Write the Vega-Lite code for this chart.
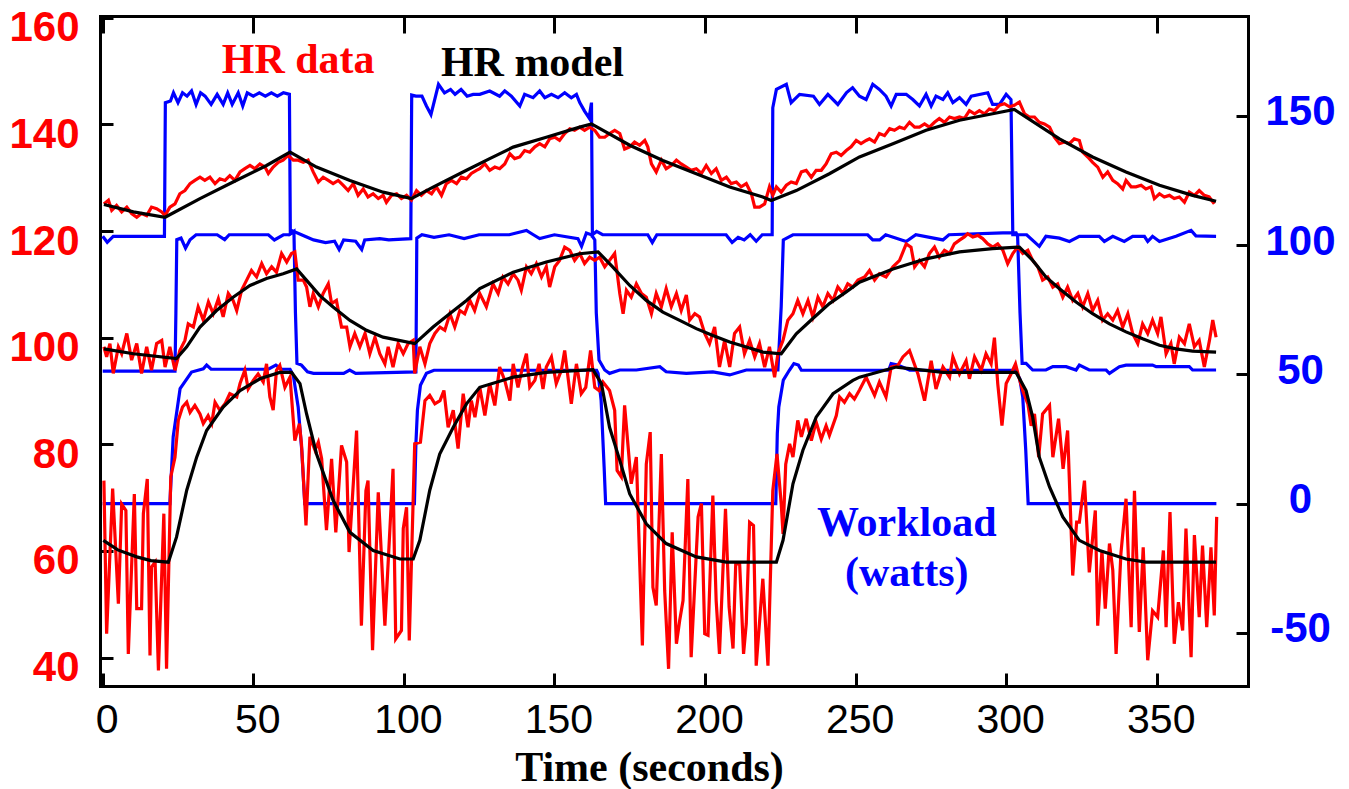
{
"$schema": "https://vega.github.io/schema/vega-lite/v6.json",
"width": 1148, "height": 670,
"autosize": {"type": "none"},
"padding": {"left": 100, "top": 16, "right": 101, "bottom": 103},
"background": "white",
"config": {
 "view": {"stroke": null},
 "axis": {"grid": false, "domainColor": "black", "domainWidth": 3, "domainCap": "square", "tickColor": "black", "tickWidth": 3, "labelFont": "Liberation Sans", "labelOverlap": false, "labelBound": false}
},
"datasets": {
"work": [
{"g":"a","t":0,"w":0},{"g":"a","t":22.3,"w":0},{"g":"a","t":23.4,"w":25.8},{"g":"a","t":25.7,"w":44.5},{"g":"a","t":29.5,"w":50.9},{"g":"a","t":33.4,"w":52.2},{"g":"a","t":34.5,"w":53.6},{"g":"a","t":36,"w":52},{"g":"a","t":55,"w":52},{"g":"a","t":57.5,"w":53.6},{"g":"a","t":59.5,"w":52},{"g":"a","t":62.2,"w":52},{"g":"a","t":63.3,"w":49.6},{"g":"a","t":64.9,"w":37.4},{"g":"a","t":66.1,"w":20.6},{"g":"a","t":67.1,"w":0},{"g":"a","t":103.5,"w":0},{"g":"a","t":104,"w":23.2},{"g":"a","t":104.5,"w":36.1},{"g":"a","t":105.5,"w":45.8},{"g":"a","t":107.5,"w":50.4},{"g":"a","t":110,"w":51.6},{"g":"a","t":164,"w":51.6},{"g":"a","t":164.5,"w":50.4},{"g":"a","t":165.5,"w":40},{"g":"a","t":166.5,"w":14.2},{"g":"a","t":167,"w":0},{"g":"a","t":223.5,"w":0},{"g":"a","t":224,"w":27.1},{"g":"a","t":224.5,"w":37.4},{"g":"a","t":226,"w":47.8},{"g":"a","t":228,"w":51.6},{"g":"a","t":229.5,"w":54.2},{"g":"a","t":231,"w":53.6},{"g":"a","t":232,"w":51.6},{"g":"a","t":261,"w":51.6},{"g":"a","t":261.8,"w":54.2},{"g":"a","t":264,"w":53.6},{"g":"a","t":268,"w":51.6},{"g":"a","t":303,"w":51.6},{"g":"a","t":304.5,"w":48.4},{"g":"a","t":305.5,"w":41.3},{"g":"a","t":306.5,"w":20.7},{"g":"a","t":307.3,"w":0},{"g":"a","t":369.8,"w":0},
{"g":"b","t":0,"w":51.3},{"g":"b","t":24,"w":51.3},{"g":"b","t":24.3,"w":73.7},{"g":"b","t":24.6,"w":102.1},{"g":"b","t":26,"w":102.7},{"g":"b","t":27.5,"w":98.8},{"g":"b","t":29,"w":102.1},{"g":"b","t":31,"w":104},{"g":"b","t":38,"w":104},{"g":"b","t":40.5,"w":102.1},{"g":"b","t":42,"w":104},{"g":"b","t":55,"w":104},{"g":"b","t":57,"w":102},{"g":"b","t":60,"w":104},{"g":"b","t":62,"w":104},{"g":"b","t":63.5,"w":105.3},{"g":"b","t":64,"w":73.7},{"g":"b","t":64.5,"w":54.3},{"g":"b","t":66,"w":53.6},{"g":"b","t":68,"w":51},{"g":"b","t":70,"w":50.4},{"g":"b","t":80,"w":50.4},{"g":"b","t":82,"w":51.7},{"g":"b","t":84,"w":50.4},{"g":"b","t":104,"w":51},{"g":"b","t":104.3,"w":102.7},{"g":"b","t":106,"w":104},{"g":"b","t":110,"w":103},{"g":"b","t":115,"w":104},{"g":"b","t":120,"w":102.5},{"g":"b","t":125,"w":104},{"g":"b","t":135,"w":104},{"g":"b","t":140.7,"w":105.7},{"g":"b","t":143,"w":104},{"g":"b","t":145.1,"w":102.5},{"g":"b","t":150,"w":104},{"g":"b","t":157.8,"w":102.5},{"g":"b","t":159,"w":99.5},{"g":"b","t":160.6,"w":104.7},{"g":"b","t":162.3,"w":104},{"g":"b","t":163.4,"w":102},{"g":"b","t":163.9,"w":73.7},{"g":"b","t":164.8,"w":55.6},{"g":"b","t":166.7,"w":51.7},{"g":"b","t":168.3,"w":50.4},{"g":"b","t":171.7,"w":51.7},{"g":"b","t":177.2,"w":51.7},{"g":"b","t":185,"w":53},{"g":"b","t":187.1,"w":51},{"g":"b","t":193.8,"w":50.4},{"g":"b","t":202.6,"w":51},{"g":"b","t":208.2,"w":49.8},{"g":"b","t":213.7,"w":51.7},{"g":"b","t":224.2,"w":51.7},{"g":"b","t":225.3,"w":76.2},{"g":"b","t":226,"w":102},{"g":"b","t":229.2,"w":104},{"g":"b","t":254,"w":104},{"g":"b","t":255.7,"w":102},{"g":"b","t":258,"w":102},{"g":"b","t":260,"w":104},{"g":"b","t":266.8,"w":101.4},{"g":"b","t":270,"w":104},{"g":"b","t":279,"w":102},{"g":"b","t":281,"w":104},{"g":"b","t":298.9,"w":104.7},{"g":"b","t":303.3,"w":104.7},{"g":"b","t":303.8,"w":103.4},{"g":"b","t":304.6,"w":73.7},{"g":"b","t":305.3,"w":54.3},{"g":"b","t":306.6,"w":54.3},{"g":"b","t":308.8,"w":51.7},{"g":"b","t":313.2,"w":51.7},{"g":"b","t":315.5,"w":53},{"g":"b","t":319.9,"w":53},{"g":"b","t":323.2,"w":51.7},{"g":"b","t":324.3,"w":53.6},{"g":"b","t":327.6,"w":51.7},{"g":"b","t":333.2,"w":51.7},{"g":"b","t":334.3,"w":50.4},{"g":"b","t":337.6,"w":53},{"g":"b","t":339.8,"w":53.6},{"g":"b","t":348.6,"w":53.6},{"g":"b","t":349.8,"w":53},{"g":"b","t":360.8,"w":53},{"g":"b","t":361.9,"w":51.7},{"g":"b","t":369.7,"w":51.7},
{"g":"c","t":0,"w":103.4},{"g":"c","t":1.5,"w":101.1},{"g":"c","t":3.5,"w":103.4},{"g":"c","t":20.5,"w":103.4},{"g":"c","t":20.8,"w":155.1},{"g":"c","t":22.5,"w":155.7},{"g":"c","t":23.5,"w":158.9},{"g":"c","t":25,"w":155.1},{"g":"c","t":26.5,"w":158.9},{"g":"c","t":28,"w":157.6},{"g":"c","t":29.5,"w":159.6},{"g":"c","t":31,"w":154.4},{"g":"c","t":32.5,"w":158.9},{"g":"c","t":34,"w":157.6},{"g":"c","t":36,"w":154.4},{"g":"c","t":38,"w":158.3},{"g":"c","t":40,"w":154.4},{"g":"c","t":41.5,"w":158.9},{"g":"c","t":43,"w":154.4},{"g":"c","t":45,"w":158.9},{"g":"c","t":46.5,"w":153.8},{"g":"c","t":48,"w":158.9},{"g":"c","t":50,"w":157.6},{"g":"c","t":52,"w":158.9},{"g":"c","t":54,"w":157.6},{"g":"c","t":56,"w":158.9},{"g":"c","t":58,"w":157.6},{"g":"c","t":60,"w":158.9},{"g":"c","t":62,"w":158.3},{"g":"c","t":62.3,"w":104.7},{"g":"c","t":63,"w":105.5},{"g":"c","t":66,"w":104},{"g":"c","t":70,"w":102},{"g":"c","t":74,"w":101},{"g":"c","t":77,"w":101.5},{"g":"c","t":78.5,"w":98.3},{"g":"c","t":80,"w":102},{"g":"c","t":84,"w":101.5},{"g":"c","t":86,"w":98.3},{"g":"c","t":87,"w":102},{"g":"c","t":92,"w":102.5},{"g":"c","t":95,"w":102},{"g":"c","t":102.3,"w":102.5},{"g":"c","t":102.6,"w":158},{"g":"c","t":104,"w":157.6},{"g":"c","t":106,"w":157.6},{"g":"c","t":107.5,"w":153.8},{"g":"c","t":109,"w":150.5},{"g":"c","t":111.5,"w":162.2},{"g":"c","t":113.5,"w":158.9},{"g":"c","t":115.5,"w":160.2},{"g":"c","t":117,"w":158.3},{"g":"c","t":119,"w":160.2},{"g":"c","t":121,"w":157.6},{"g":"c","t":123,"w":158.3},{"g":"c","t":125.2,"w":158.3},{"g":"c","t":128.5,"w":159.6},{"g":"c","t":131.8,"w":157.6},{"g":"c","t":133.5,"w":159.6},{"g":"c","t":135.7,"w":157.6},{"g":"c","t":138.5,"w":153.8},{"g":"c","t":140.1,"w":158.3},{"g":"c","t":142.9,"w":157},{"g":"c","t":145.1,"w":159.6},{"g":"c","t":146.8,"w":157},{"g":"c","t":149,"w":158.3},{"g":"c","t":151.2,"w":157},{"g":"c","t":153.4,"w":158.9},{"g":"c","t":155.6,"w":157},{"g":"c","t":157.3,"w":158.3},{"g":"c","t":158.4,"w":155.1},{"g":"c","t":160,"w":151.8},{"g":"c","t":161.5,"w":149.2},{"g":"c","t":162.3,"w":155.1},{"g":"c","t":162.6,"w":104},{"g":"c","t":164,"w":105.3},{"g":"c","t":166,"w":104},{"g":"c","t":181,"w":104},{"g":"c","t":182.5,"w":101},{"g":"c","t":184,"w":104},{"g":"c","t":207,"w":104},{"g":"c","t":209,"w":101},{"g":"c","t":211,"w":103},{"g":"c","t":213,"w":102},{"g":"c","t":215,"w":104},{"g":"c","t":217,"w":101.5},{"g":"c","t":219,"w":104},{"g":"c","t":222.3,"w":104},{"g":"c","t":222.5,"w":153.1},{"g":"c","t":223.7,"w":160.2},{"g":"c","t":227,"w":162.2},{"g":"c","t":228.6,"w":155.1},{"g":"c","t":231.4,"w":158.3},{"g":"c","t":236,"w":157.6},{"g":"c","t":238,"w":154.4},{"g":"c","t":240.8,"w":158.3},{"g":"c","t":244.1,"w":154.4},{"g":"c","t":247,"w":159},{"g":"c","t":249,"w":160.9},{"g":"c","t":251.3,"w":157.6},{"g":"c","t":253.5,"w":156.3},{"g":"c","t":255.7,"w":162.2},{"g":"c","t":257.9,"w":160.2},{"g":"c","t":260.1,"w":157.6},{"g":"c","t":261.8,"w":153.8},{"g":"c","t":263.5,"w":158.3},{"g":"c","t":266.8,"w":158.3},{"g":"c","t":269,"w":156.3},{"g":"c","t":271.2,"w":153.8},{"g":"c","t":273.4,"w":158.3},{"g":"c","t":275.1,"w":153.8},{"g":"c","t":276.7,"w":157.6},{"g":"c","t":279,"w":156.3},{"g":"c","t":280.6,"w":158.9},{"g":"c","t":282.3,"w":155.1},{"g":"c","t":284.5,"w":157},{"g":"c","t":286.7,"w":154.4},{"g":"c","t":288.4,"w":157.6},{"g":"c","t":293.9,"w":158.9},{"g":"c","t":295.5,"w":154.4},{"g":"c","t":297.8,"w":154.4},{"g":"c","t":300,"w":158.3},{"g":"c","t":301.6,"w":156.3},{"g":"c","t":302.2,"w":104},{"g":"c","t":306.8,"w":104},{"g":"c","t":311,"w":99.5},{"g":"c","t":313.2,"w":103.4},{"g":"c","t":317.7,"w":102.7},{"g":"c","t":321,"w":101.4},{"g":"c","t":324.3,"w":103.4},{"g":"c","t":330.9,"w":103.4},{"g":"c","t":332.6,"w":101.4},{"g":"c","t":335.4,"w":103.4},{"g":"c","t":339.2,"w":101.4},{"g":"c","t":342,"w":103.4},{"g":"c","t":345.9,"w":103.4},{"g":"c","t":347,"w":101.4},{"g":"c","t":348.6,"w":103.4},{"g":"c","t":350.9,"w":101.4},{"g":"c","t":356.4,"w":103.4},{"g":"c","t":361.4,"w":105.7},{"g":"c","t":363,"w":103.6},{"g":"c","t":369.7,"w":103.4}
],
"hr": [
{"g":"a","t":0.4,"v":73.2},{"g":"a","t":1.3,"v":44.5},{"g":"a","t":3.3,"v":71.7},{"g":"a","t":5.2,"v":50.1},{"g":"a","t":6.3,"v":68.8},{"g":"a","t":7.7,"v":67.6},{"g":"a","t":8.5,"v":40.7},{"g":"a","t":10.5,"v":70.7},{"g":"a","t":11.3,"v":49.2},{"g":"a","t":12.9,"v":49.2},{"g":"a","t":13.5,"v":67},{"g":"a","t":14.8,"v":73.5},{"g":"a","t":15.7,"v":40.4},{"g":"a","t":16.2,"v":57},{"g":"a","t":17.4,"v":57.9},{"g":"a","t":18.5,"v":37.6},{"g":"a","t":20.3,"v":67},{"g":"a","t":21.2,"v":37.9},{"g":"a","t":22.6,"v":73.9},{"g":"a","t":24,"v":77.6},{"g":"a","t":25.1,"v":84.5},{"g":"a","t":26.5,"v":87},{"g":"a","t":27.9,"v":87.9},{"g":"a","t":29,"v":86},{"g":"a","t":30.6,"v":87.3},{"g":"a","t":32.3,"v":85.7},{"g":"a","t":33.4,"v":83.9},{"g":"a","t":35,"v":85.4},{"g":"a","t":36.2,"v":83.9},{"g":"a","t":37.3,"v":87.9},{"g":"a","t":38.9,"v":86.4},{"g":"a","t":40.6,"v":87.6},{"g":"a","t":42.2,"v":89.5},{"g":"a","t":44.5,"v":88.9},{"g":"a","t":45.6,"v":91.4},{"g":"a","t":47.2,"v":93.9},{"g":"a","t":48.3,"v":90.4},{"g":"a","t":50,"v":92},{"g":"a","t":51.6,"v":93.2},{"g":"a","t":53.3,"v":91.7},{"g":"a","t":54.4,"v":95.1},{"g":"a","t":55.5,"v":88.9},{"g":"a","t":56.6,"v":86.4},{"g":"a","t":57.7,"v":93.9},{"g":"a","t":58.8,"v":94.8},{"g":"a","t":60.5,"v":90.7},{"g":"a","t":62.2,"v":92.6},{"g":"a","t":63.8,"v":80.7},{"g":"a","t":65.3,"v":83.9},{"g":"a","t":66,"v":80.1},{"g":"a","t":67.5,"v":64.8},{"g":"a","t":68.8,"v":81.4},{"g":"a","t":70.5,"v":78.9},{"g":"a","t":71.6,"v":80.4},{"g":"a","t":72.7,"v":77.3},{"g":"a","t":74.3,"v":63.9},{"g":"a","t":76,"v":77.3},{"g":"a","t":77.4,"v":63.5},{"g":"a","t":79.3,"v":79.8},{"g":"a","t":81,"v":76.7},{"g":"a","t":81.8,"v":59.8},{"g":"a","t":84.3,"v":82.6},{"g":"a","t":85.9,"v":46},{"g":"a","t":87.4,"v":71.3},{"g":"a","t":88.1,"v":73.2},{"g":"a","t":89.6,"v":41.4},{"g":"a","t":91.5,"v":71},{"g":"a","t":93.7,"v":46},{"g":"a","t":96.4,"v":75.4},{"g":"a","t":97.3,"v":43.5},{"g":"a","t":99.2,"v":45.1},{"g":"a","t":99.8,"v":64.2},{"g":"a","t":100.9,"v":68.2},{"g":"a","t":101.8,"v":43.2},{"g":"a","t":103.6,"v":80.1},{"g":"a","t":105.5,"v":80.4},{"g":"a","t":107,"v":88.2},{"g":"a","t":108.6,"v":89.2},{"g":"a","t":110.3,"v":87.6},{"g":"a","t":112,"v":88.2},{"g":"a","t":113.3,"v":90.1},{"g":"a","t":114.7,"v":83.2},{"g":"a","t":116.4,"v":86.4},{"g":"a","t":118,"v":79.2},{"g":"a","t":119.7,"v":89.5},{"g":"a","t":121.3,"v":83.2},{"g":"a","t":122.4,"v":88.2},{"g":"a","t":123.6,"v":85.1},{"g":"a","t":125.2,"v":90.7},{"g":"a","t":126.9,"v":85.4},{"g":"a","t":128.5,"v":91.4},{"g":"a","t":130.2,"v":87.3},{"g":"a","t":131.8,"v":94.5},{"g":"a","t":133.5,"v":92},{"g":"a","t":135.2,"v":88.2},{"g":"a","t":136.3,"v":95.1},{"g":"a","t":137.9,"v":90.7},{"g":"a","t":139.4,"v":94.5},{"g":"a","t":140.7,"v":97},{"g":"a","t":141.8,"v":90.7},{"g":"a","t":143.5,"v":92},{"g":"a","t":144.9,"v":95.1},{"g":"a","t":146.2,"v":90.4},{"g":"a","t":147.3,"v":94.5},{"g":"a","t":149,"v":96.4},{"g":"a","t":150.6,"v":91.4},{"g":"a","t":152.3,"v":93.9},{"g":"a","t":153.4,"v":97.6},{"g":"a","t":155.6,"v":87.6},{"g":"a","t":157.3,"v":95.1},{"g":"a","t":158.9,"v":89.5},{"g":"a","t":160.4,"v":90.7},{"g":"a","t":162,"v":97.6},{"g":"a","t":163.4,"v":90.7},{"g":"a","t":164.8,"v":90.1},{"g":"a","t":166.1,"v":91.7},{"g":"a","t":168.3,"v":90.1},{"g":"a","t":170,"v":86.4},{"g":"a","t":170.8,"v":75.1},{"g":"a","t":172.2,"v":73.9},{"g":"a","t":173.3,"v":87.3},{"g":"a","t":175.5,"v":72.6},{"g":"a","t":177.2,"v":77.6},{"g":"a","t":179.2,"v":42.3},{"g":"a","t":180.5,"v":76.3},{"g":"a","t":181.8,"v":82.3},{"g":"a","t":182.7,"v":53.2},{"g":"a","t":183.8,"v":49.8},{"g":"a","t":185.5,"v":78.2},{"g":"a","t":186.6,"v":52.6},{"g":"a","t":187.9,"v":37.9},{"g":"a","t":189.1,"v":63.5},{"g":"a","t":190.5,"v":42.6},{"g":"a","t":191.6,"v":47},{"g":"a","t":192.7,"v":50.7},{"g":"a","t":194.3,"v":73.5},{"g":"a","t":195.4,"v":40.1},{"g":"a","t":196.6,"v":53.8},{"g":"a","t":197.7,"v":66.4},{"g":"a","t":198.8,"v":68.9},{"g":"a","t":199.9,"v":44.5},{"g":"a","t":201,"v":44.2},{"g":"a","t":202.6,"v":70.4},{"g":"a","t":203.7,"v":50.7},{"g":"a","t":204.8,"v":40.7},{"g":"a","t":206.8,"v":67.9},{"g":"a","t":208,"v":49.5},{"g":"a","t":209.3,"v":41.7},{"g":"a","t":210.2,"v":57.6},{"g":"a","t":211.5,"v":57.6},{"g":"a","t":212.8,"v":40.7},{"g":"a","t":213.7,"v":46.4},{"g":"a","t":214.8,"v":65.4},{"g":"a","t":216.1,"v":64.8},{"g":"a","t":217,"v":38.5},{"g":"a","t":219.2,"v":54.8},{"g":"a","t":220.9,"v":38.5},{"g":"a","t":222.5,"v":71.3},{"g":"a","t":223.9,"v":78.2},{"g":"a","t":225.3,"v":68.9},{"g":"a","t":225.9,"v":63.2},{"g":"a","t":226.8,"v":76.3},{"g":"a","t":228.1,"v":80.1},{"g":"a","t":229.2,"v":77.6},{"g":"a","t":230.8,"v":84.5},{"g":"a","t":232,"v":81.4},{"g":"a","t":233.6,"v":84.8},{"g":"a","t":235.3,"v":80.7},{"g":"a","t":236.9,"v":84.2},{"g":"a","t":238.6,"v":81},{"g":"a","t":240.2,"v":83.5},{"g":"a","t":241.3,"v":81.7},{"g":"a","t":243.6,"v":85.4},{"g":"a","t":244.7,"v":88.9},{"g":"a","t":246.3,"v":87.9},{"g":"a","t":248,"v":89.5},{"g":"a","t":249.6,"v":88.5},{"g":"a","t":251.3,"v":90.2},{"g":"a","t":253.5,"v":92.6},{"g":"a","t":256.3,"v":89.2},{"g":"a","t":257.9,"v":91.7},{"g":"a","t":260.1,"v":88.9},{"g":"a","t":261.8,"v":94.5},{"g":"a","t":264,"v":94.8},{"g":"a","t":265.7,"v":96.4},{"g":"a","t":267.9,"v":97.6},{"g":"a","t":270.7,"v":93.2},{"g":"a","t":272.9,"v":88.2},{"g":"a","t":275.1,"v":95.7},{"g":"a","t":276.7,"v":90.4},{"g":"a","t":279,"v":94.5},{"g":"a","t":281.2,"v":92.6},{"g":"a","t":282.3,"v":96.4},{"g":"a","t":284.5,"v":93.2},{"g":"a","t":286.7,"v":95.7},{"g":"a","t":287.8,"v":92.3},{"g":"a","t":289.5,"v":96.4},{"g":"a","t":291.7,"v":93.9},{"g":"a","t":293.3,"v":97},{"g":"a","t":295,"v":95.1},{"g":"a","t":296.1,"v":100},{"g":"a","t":297.2,"v":91.4},{"g":"a","t":298.6,"v":83.5},{"g":"a","t":300,"v":91.4},{"g":"a","t":301.6,"v":93.2},{"g":"a","t":303.1,"v":95.1},{"g":"a","t":304.2,"v":92.6},{"g":"a","t":305.5,"v":90.1},{"g":"a","t":307.2,"v":87.6},{"g":"a","t":308.3,"v":83.5},{"g":"a","t":309.4,"v":85.7},{"g":"a","t":310.8,"v":77.6},{"g":"a","t":312.1,"v":85.7},{"g":"a","t":314.4,"v":87.3},{"g":"a","t":315.5,"v":77.6},{"g":"a","t":317.4,"v":84.8},{"g":"a","t":318.9,"v":75.4},{"g":"a","t":320.4,"v":82.6},{"g":"a","t":322.1,"v":55.4},{"g":"a","t":323.4,"v":65.4},{"g":"a","t":324.3,"v":65.4},{"g":"a","t":326,"v":73.2},{"g":"a","t":327.6,"v":56},{"g":"a","t":329.6,"v":67.6},{"g":"a","t":330.4,"v":46},{"g":"a","t":331.8,"v":60.1},{"g":"a","t":332.9,"v":49.2},{"g":"a","t":334.3,"v":61.4},{"g":"a","t":335.4,"v":56.4},{"g":"a","t":336.5,"v":40.7},{"g":"a","t":338.1,"v":59.5},{"g":"a","t":339.8,"v":69.8},{"g":"a","t":341.5,"v":45.7},{"g":"a","t":342.6,"v":71.3},{"g":"a","t":344.2,"v":44.8},{"g":"a","t":345.5,"v":60.7},{"g":"a","t":347,"v":39.5},{"g":"a","t":348.6,"v":48.8},{"g":"a","t":350.3,"v":47.6},{"g":"a","t":352.2,"v":60.1},{"g":"a","t":353.1,"v":45.7},{"g":"a","t":354.4,"v":67.3},{"g":"a","t":355.8,"v":42.6},{"g":"a","t":357.2,"v":50.4},{"g":"a","t":358.6,"v":45.1},{"g":"a","t":359.7,"v":64.2},{"g":"a","t":361.4,"v":40.1},{"g":"a","t":362.5,"v":63},{"g":"a","t":364.1,"v":47.6},{"g":"a","t":365.2,"v":61},{"g":"a","t":366.6,"v":45.7},{"g":"a","t":368,"v":60.7},{"g":"a","t":369.1,"v":47.9},{"g":"a","t":369.9,"v":66.4},
{"g":"b","t":0.4,"v":98.3},{"g":"b","t":1.3,"v":96.4},{"g":"b","t":2.4,"v":98.9},{"g":"b","t":3.5,"v":93.3},{"g":"b","t":5.2,"v":98.3},{"g":"b","t":6.3,"v":97},{"g":"b","t":8,"v":100.8},{"g":"b","t":9.6,"v":95.8},{"g":"b","t":11.3,"v":98.9},{"g":"b","t":12.9,"v":93.3},{"g":"b","t":14.6,"v":98.3},{"g":"b","t":16.2,"v":93.9},{"g":"b","t":17.9,"v":98.9},{"g":"b","t":19.6,"v":99.5},{"g":"b","t":20.7,"v":94.5},{"g":"b","t":22.3,"v":98.3},{"g":"b","t":24,"v":93.9},{"g":"b","t":25.6,"v":97.6},{"g":"b","t":27.3,"v":99.5},{"g":"b","t":28.4,"v":102.6},{"g":"b","t":30.1,"v":102},{"g":"b","t":31.7,"v":105.8},{"g":"b","t":33.4,"v":103.3},{"g":"b","t":35.1,"v":106.7},{"g":"b","t":36.7,"v":104.5},{"g":"b","t":38.4,"v":107.3},{"g":"b","t":40,"v":103.9},{"g":"b","t":41.7,"v":108.3},{"g":"b","t":43.3,"v":107},{"g":"b","t":44.5,"v":105.1},{"g":"b","t":46.1,"v":108.9},{"g":"b","t":47.8,"v":110.8},{"g":"b","t":49.4,"v":112.6},{"g":"b","t":51.1,"v":111.4},{"g":"b","t":52.8,"v":113.9},{"g":"b","t":54.4,"v":112},{"g":"b","t":56.1,"v":113.3},{"g":"b","t":57.7,"v":112.3},{"g":"b","t":59.4,"v":115.8},{"g":"b","t":61.1,"v":114.2},{"g":"b","t":62.7,"v":115.8},{"g":"b","t":63.8,"v":116.1},{"g":"b","t":64.9,"v":110.8},{"g":"b","t":66.6,"v":110.8},{"g":"b","t":67.7,"v":109.5},{"g":"b","t":68.8,"v":105.8},{"g":"b","t":69.9,"v":108.3},{"g":"b","t":71.6,"v":105.8},{"g":"b","t":73.2,"v":108.3},{"g":"b","t":74.9,"v":110.1},{"g":"b","t":76,"v":106.4},{"g":"b","t":77.6,"v":107},{"g":"b","t":79.3,"v":102},{"g":"b","t":81,"v":102},{"g":"b","t":82.1,"v":98.3},{"g":"b","t":83.7,"v":100.8},{"g":"b","t":85.4,"v":98.3},{"g":"b","t":87.1,"v":100.8},{"g":"b","t":88.7,"v":97},{"g":"b","t":90.4,"v":100.1},{"g":"b","t":92,"v":97},{"g":"b","t":93.7,"v":95.1},{"g":"b","t":94.8,"v":98.3},{"g":"b","t":96.4,"v":94.5},{"g":"b","t":98.1,"v":98.9},{"g":"b","t":99.8,"v":97},{"g":"b","t":101.4,"v":98.9},{"g":"b","t":103.1,"v":99.5},{"g":"b","t":103.6,"v":93.3},{"g":"b","t":105.3,"v":98.3},{"g":"b","t":107,"v":95.1},{"g":"b","t":108.6,"v":98.9},{"g":"b","t":110.3,"v":100.8},{"g":"b","t":112,"v":102},{"g":"b","t":113.6,"v":101.4},{"g":"b","t":115.3,"v":104.5},{"g":"b","t":116.9,"v":102},{"g":"b","t":118.6,"v":105.1},{"g":"b","t":120.2,"v":104.5},{"g":"b","t":121.9,"v":107},{"g":"b","t":123.5,"v":105.1},{"g":"b","t":125.2,"v":108.3},{"g":"b","t":127.4,"v":105.8},{"g":"b","t":129.6,"v":110.1},{"g":"b","t":131.3,"v":108.3},{"g":"b","t":132.9,"v":111.4},{"g":"b","t":134.6,"v":110.1},{"g":"b","t":136.3,"v":112},{"g":"b","t":137.9,"v":110.8},{"g":"b","t":139,"v":108.9},{"g":"b","t":140.7,"v":113.3},{"g":"b","t":142.3,"v":112},{"g":"b","t":144,"v":113.9},{"g":"b","t":145.7,"v":111.4},{"g":"b","t":147.3,"v":113.3},{"g":"b","t":148.4,"v":109.5},{"g":"b","t":150.1,"v":113.3},{"g":"b","t":151.7,"v":114.5},{"g":"b","t":153.4,"v":117},{"g":"b","t":155.1,"v":116.4},{"g":"b","t":156.7,"v":114.5},{"g":"b","t":158.4,"v":115.8},{"g":"b","t":160,"v":113.9},{"g":"b","t":161.7,"v":115.1},{"g":"b","t":163.4,"v":114.5},{"g":"b","t":165,"v":115.1},{"g":"b","t":166.7,"v":113.3},{"g":"b","t":168.3,"v":114.5},{"g":"b","t":170,"v":115.8},{"g":"b","t":171.7,"v":108.3},{"g":"b","t":172.8,"v":104.5},{"g":"b","t":173.9,"v":108.9},{"g":"b","t":175.5,"v":107.6},{"g":"b","t":177.2,"v":110.1},{"g":"b","t":178.9,"v":108.3},{"g":"b","t":180.5,"v":107.6},{"g":"b","t":182.2,"v":104.5},{"g":"b","t":183.8,"v":108.3},{"g":"b","t":185.5,"v":105.8},{"g":"b","t":187.1,"v":109.2},{"g":"b","t":188.8,"v":105.8},{"g":"b","t":190.5,"v":108.3},{"g":"b","t":192.1,"v":105.1},{"g":"b","t":193.8,"v":108},{"g":"b","t":194.9,"v":103.3},{"g":"b","t":196.6,"v":104.5},{"g":"b","t":198.2,"v":103.9},{"g":"b","t":199.9,"v":100.8},{"g":"b","t":201.5,"v":98.9},{"g":"b","t":203.2,"v":102},{"g":"b","t":204.8,"v":94.5},{"g":"b","t":206.5,"v":99.5},{"g":"b","t":208.2,"v":94.5},{"g":"b","t":209.8,"v":100.8},{"g":"b","t":211.5,"v":102},{"g":"b","t":213.1,"v":97},{"g":"b","t":214.8,"v":99.5},{"g":"b","t":216.5,"v":96.4},{"g":"b","t":218.1,"v":98.9},{"g":"b","t":219.8,"v":94.5},{"g":"b","t":221.4,"v":98.3},{"g":"b","t":223.1,"v":92.6},{"g":"b","t":224.2,"v":97},{"g":"b","t":225.9,"v":99.5},{"g":"b","t":227.5,"v":103.3},{"g":"b","t":229.2,"v":104.5},{"g":"b","t":230.8,"v":107},{"g":"b","t":232.5,"v":104.5},{"g":"b","t":234.2,"v":107},{"g":"b","t":235.8,"v":103.9},{"g":"b","t":237.5,"v":107.6},{"g":"b","t":239.1,"v":105.8},{"g":"b","t":240.8,"v":108.3},{"g":"b","t":242.5,"v":107},{"g":"b","t":244.1,"v":109.5},{"g":"b","t":245.8,"v":108.3},{"g":"b","t":247.4,"v":110.1},{"g":"b","t":249.1,"v":109.5},{"g":"b","t":250.8,"v":110.8},{"g":"b","t":253,"v":111.4},{"g":"b","t":254.6,"v":112.6},{"g":"b","t":256.3,"v":110.8},{"g":"b","t":257.9,"v":112},{"g":"b","t":260.1,"v":111.4},{"g":"b","t":262.4,"v":113.3},{"g":"b","t":264.6,"v":114.5},{"g":"b","t":266.8,"v":117.6},{"g":"b","t":268.4,"v":117},{"g":"b","t":269.6,"v":113.3},{"g":"b","t":271.2,"v":114.5},{"g":"b","t":272.9,"v":113.3},{"g":"b","t":274.5,"v":115.8},{"g":"b","t":276.2,"v":117},{"g":"b","t":277.8,"v":115.1},{"g":"b","t":279.5,"v":116.4},{"g":"b","t":281.2,"v":115.8},{"g":"b","t":282.8,"v":117.6},{"g":"b","t":284.5,"v":118.3},{"g":"b","t":286.1,"v":118.9},{"g":"b","t":287.2,"v":119.5},{"g":"b","t":288.9,"v":118.9},{"g":"b","t":290.6,"v":119.2},{"g":"b","t":292.2,"v":118.6},{"g":"b","t":293.9,"v":117.6},{"g":"b","t":295.6,"v":117},{"g":"b","t":297.2,"v":117.6},{"g":"b","t":298.9,"v":116.4},{"g":"b","t":300.5,"v":113.9},{"g":"b","t":302.2,"v":115.8},{"g":"b","t":303.8,"v":117},{"g":"b","t":305.5,"v":115.8},{"g":"b","t":307.2,"v":116.4},{"g":"b","t":308.8,"v":114.5},{"g":"b","t":310.5,"v":113.3},{"g":"b","t":312.1,"v":110.8},{"g":"b","t":313.8,"v":111.4},{"g":"b","t":315.5,"v":109.5},{"g":"b","t":317.1,"v":110.1},{"g":"b","t":318.8,"v":107.6},{"g":"b","t":320.4,"v":109.5},{"g":"b","t":322.1,"v":107},{"g":"b","t":323.8,"v":108.3},{"g":"b","t":325.4,"v":105.8},{"g":"b","t":327.1,"v":108.3},{"g":"b","t":328.7,"v":105.1},{"g":"b","t":330.4,"v":107},{"g":"b","t":332,"v":103.3},{"g":"b","t":333.7,"v":104.5},{"g":"b","t":335.4,"v":103.3},{"g":"b","t":337,"v":105.1},{"g":"b","t":338.7,"v":102},{"g":"b","t":340.4,"v":104.5},{"g":"b","t":342,"v":100.8},{"g":"b","t":343.7,"v":98.9},{"g":"b","t":345.3,"v":102.6},{"g":"b","t":347,"v":100.8},{"g":"b","t":348.6,"v":103.3},{"g":"b","t":350.3,"v":100.8},{"g":"b","t":351.4,"v":103.9},{"g":"b","t":353.1,"v":97},{"g":"b","t":354.7,"v":98.9},{"g":"b","t":355.8,"v":95.1},{"g":"b","t":357.5,"v":100.1},{"g":"b","t":359.2,"v":98.9},{"g":"b","t":360.8,"v":102.6},{"g":"b","t":362.5,"v":98.3},{"g":"b","t":364.1,"v":99.5},{"g":"b","t":365.8,"v":94.5},{"g":"b","t":367.5,"v":99.5},{"g":"b","t":368.6,"v":103.3},{"g":"b","t":369.7,"v":100.1},
{"g":"c","t":0.4,"v":125.1},{"g":"c","t":1.9,"v":125.8},{"g":"c","t":3,"v":123.9},{"g":"c","t":4.6,"v":124.8},{"g":"c","t":6.3,"v":123.6},{"g":"c","t":8,"v":124.5},{"g":"c","t":9.6,"v":123.3},{"g":"c","t":11.3,"v":122.6},{"g":"c","t":12.9,"v":123.3},{"g":"c","t":14.6,"v":122.9},{"g":"c","t":16.2,"v":124.5},{"g":"c","t":17.9,"v":124.2},{"g":"c","t":19.6,"v":123.6},{"g":"c","t":20.7,"v":122.9},{"g":"c","t":22.3,"v":124.5},{"g":"c","t":24,"v":125.1},{"g":"c","t":25.6,"v":127},{"g":"c","t":27.3,"v":127.6},{"g":"c","t":29,"v":128.9},{"g":"c","t":30.6,"v":129.5},{"g":"c","t":32.3,"v":130.1},{"g":"c","t":33.9,"v":129.5},{"g":"c","t":35.6,"v":130.1},{"g":"c","t":37.3,"v":128.9},{"g":"c","t":38.9,"v":129.8},{"g":"c","t":40.6,"v":129.5},{"g":"c","t":42.2,"v":130.4},{"g":"c","t":43.9,"v":129.5},{"g":"c","t":45.6,"v":131.1},{"g":"c","t":47.2,"v":131.7},{"g":"c","t":48.9,"v":132.3},{"g":"c","t":50.5,"v":131.7},{"g":"c","t":52.2,"v":132.6},{"g":"c","t":53.9,"v":132},{"g":"c","t":55,"v":130.8},{"g":"c","t":56.6,"v":132},{"g":"c","t":58.3,"v":132.9},{"g":"c","t":59.9,"v":133.3},{"g":"c","t":61.6,"v":134.2},{"g":"c","t":63.3,"v":133.3},{"g":"c","t":64.9,"v":133.3},{"g":"c","t":66.6,"v":132.9},{"g":"c","t":68.2,"v":133.3},{"g":"c","t":69.9,"v":131.1},{"g":"c","t":71.6,"v":129.2},{"g":"c","t":73.2,"v":130.1},{"g":"c","t":74.9,"v":129.5},{"g":"c","t":76.5,"v":128.9},{"g":"c","t":78.2,"v":129.5},{"g":"c","t":79.8,"v":128.6},{"g":"c","t":81.5,"v":127.6},{"g":"c","t":83.2,"v":128.9},{"g":"c","t":84.8,"v":126.7},{"g":"c","t":86.5,"v":127.9},{"g":"c","t":88.1,"v":126.4},{"g":"c","t":89.8,"v":127},{"g":"c","t":91.5,"v":126.1},{"g":"c","t":93.1,"v":126.7},{"g":"c","t":94.2,"v":125.4},{"g":"c","t":95.9,"v":126.7},{"g":"c","t":97.6,"v":127},{"g":"c","t":99.2,"v":126.1},{"g":"c","t":100.9,"v":126.7},{"g":"c","t":102.5,"v":125.8},{"g":"c","t":104.2,"v":127.6},{"g":"c","t":105.8,"v":126.7},{"g":"c","t":107.5,"v":127.6},{"g":"c","t":109.2,"v":127},{"g":"c","t":110.8,"v":128.3},{"g":"c","t":112.5,"v":126.7},{"g":"c","t":114.1,"v":128.9},{"g":"c","t":115.8,"v":129.5},{"g":"c","t":117.5,"v":128.9},{"g":"c","t":119.1,"v":130.1},{"g":"c","t":120.8,"v":129.8},{"g":"c","t":122.4,"v":130.8},{"g":"c","t":124.1,"v":131.4},{"g":"c","t":125.2,"v":131.7},{"g":"c","t":126.9,"v":132.6},{"g":"c","t":128.5,"v":131.4},{"g":"c","t":130.2,"v":132},{"g":"c","t":131.8,"v":131.7},{"g":"c","t":133.5,"v":132.6},{"g":"c","t":135.2,"v":134.5},{"g":"c","t":136.8,"v":133.6},{"g":"c","t":138.5,"v":133.9},{"g":"c","t":140.1,"v":135.1},{"g":"c","t":141.8,"v":134.8},{"g":"c","t":143.5,"v":135.8},{"g":"c","t":145.1,"v":136.4},{"g":"c","t":146.8,"v":135.8},{"g":"c","t":148.4,"v":137.3},{"g":"c","t":150.1,"v":137.6},{"g":"c","t":151.7,"v":137},{"g":"c","t":153.4,"v":138.3},{"g":"c","t":155.1,"v":139.2},{"g":"c","t":156.7,"v":138.9},{"g":"c","t":158.4,"v":139.5},{"g":"c","t":160,"v":138.9},{"g":"c","t":161.7,"v":139.5},{"g":"c","t":163.4,"v":138.9},{"g":"c","t":165,"v":137.6},{"g":"c","t":166.7,"v":137.6},{"g":"c","t":168.3,"v":138.3},{"g":"c","t":170,"v":138.9},{"g":"c","t":171.7,"v":138.3},{"g":"c","t":173.3,"v":135.4},{"g":"c","t":175,"v":135.8},{"g":"c","t":176.6,"v":136.7},{"g":"c","t":178.3,"v":136.1},{"g":"c","t":180,"v":137},{"g":"c","t":181,"v":135.8},{"g":"c","t":182.2,"v":132.6},{"g":"c","t":183.8,"v":131.1},{"g":"c","t":185.5,"v":133.3},{"g":"c","t":187.1,"v":131.7},{"g":"c","t":188.8,"v":132.3},{"g":"c","t":190.5,"v":133.3},{"g":"c","t":192.1,"v":132.6},{"g":"c","t":193.8,"v":132},{"g":"c","t":195.4,"v":131.4},{"g":"c","t":197.1,"v":131.7},{"g":"c","t":198.8,"v":130.8},{"g":"c","t":200.4,"v":132.3},{"g":"c","t":202.1,"v":130.8},{"g":"c","t":203.7,"v":131.7},{"g":"c","t":205.4,"v":129.5},{"g":"c","t":207.1,"v":130.1},{"g":"c","t":208.7,"v":128.9},{"g":"c","t":210.4,"v":129.2},{"g":"c","t":212,"v":128.3},{"g":"c","t":213.7,"v":128.9},{"g":"c","t":215.4,"v":127},{"g":"c","t":216.5,"v":124.5},{"g":"c","t":218.1,"v":124.5},{"g":"c","t":219.8,"v":125.1},{"g":"c","t":221.4,"v":128.3},{"g":"c","t":222.5,"v":126.7},{"g":"c","t":223.7,"v":128.3},{"g":"c","t":225.3,"v":127.3},{"g":"c","t":227,"v":128.6},{"g":"c","t":228.6,"v":129.2},{"g":"c","t":230.3,"v":128.9},{"g":"c","t":232,"v":131.1},{"g":"c","t":233.6,"v":131.4},{"g":"c","t":235.3,"v":130.1},{"g":"c","t":236.9,"v":131.4},{"g":"c","t":238.6,"v":131.4},{"g":"c","t":240.2,"v":132.6},{"g":"c","t":241.9,"v":134.5},{"g":"c","t":243.6,"v":134.8},{"g":"c","t":245.2,"v":134.2},{"g":"c","t":246.9,"v":135.1},{"g":"c","t":248.5,"v":135.8},{"g":"c","t":250.2,"v":137},{"g":"c","t":251.8,"v":136.4},{"g":"c","t":253.5,"v":137},{"g":"c","t":254.6,"v":137.3},{"g":"c","t":256.3,"v":136.7},{"g":"c","t":257.9,"v":138.3},{"g":"c","t":259.6,"v":137.9},{"g":"c","t":261.3,"v":139.2},{"g":"c","t":262.9,"v":138.9},{"g":"c","t":264.6,"v":139.5},{"g":"c","t":266.2,"v":139.2},{"g":"c","t":267.9,"v":140.4},{"g":"c","t":269.6,"v":139.5},{"g":"c","t":271.2,"v":139.5},{"g":"c","t":272.9,"v":140.1},{"g":"c","t":274.5,"v":139.5},{"g":"c","t":276.2,"v":140.4},{"g":"c","t":277.8,"v":141.1},{"g":"c","t":279.5,"v":140.4},{"g":"c","t":281.2,"v":141.4},{"g":"c","t":282.8,"v":141.1},{"g":"c","t":284.5,"v":141.4},{"g":"c","t":286.1,"v":141.1},{"g":"c","t":287.8,"v":142.6},{"g":"c","t":289.5,"v":142},{"g":"c","t":291.1,"v":142.6},{"g":"c","t":292.8,"v":142},{"g":"c","t":294.4,"v":142.9},{"g":"c","t":296.1,"v":142.6},{"g":"c","t":297.8,"v":143.6},{"g":"c","t":299.4,"v":143.9},{"g":"c","t":301.1,"v":143.3},{"g":"c","t":302.7,"v":143.6},{"g":"c","t":304.4,"v":144.2},{"g":"c","t":306.1,"v":142},{"g":"c","t":307.7,"v":141.4},{"g":"c","t":309.4,"v":141.4},{"g":"c","t":311,"v":140.4},{"g":"c","t":312.7,"v":140.1},{"g":"c","t":314.4,"v":139.5},{"g":"c","t":316,"v":137.6},{"g":"c","t":317.7,"v":136.4},{"g":"c","t":319.3,"v":136.7},{"g":"c","t":321,"v":136.4},{"g":"c","t":322.6,"v":137.3},{"g":"c","t":324.3,"v":137},{"g":"c","t":325.4,"v":134.8},{"g":"c","t":327.1,"v":133.9},{"g":"c","t":328.7,"v":132.9},{"g":"c","t":330.4,"v":132},{"g":"c","t":332.1,"v":130.1},{"g":"c","t":333.7,"v":131.1},{"g":"c","t":335.4,"v":129.5},{"g":"c","t":337,"v":128.9},{"g":"c","t":338.7,"v":127.9},{"g":"c","t":339.8,"v":129.5},{"g":"c","t":341.5,"v":128.3},{"g":"c","t":343.1,"v":128.3},{"g":"c","t":344.8,"v":128.6},{"g":"c","t":346.4,"v":127.9},{"g":"c","t":348.1,"v":128.3},{"g":"c","t":349.2,"v":126.1},{"g":"c","t":350.9,"v":127},{"g":"c","t":352.5,"v":126.4},{"g":"c","t":354.2,"v":126.7},{"g":"c","t":355.8,"v":126.1},{"g":"c","t":357.5,"v":126.4},{"g":"c","t":359.2,"v":125.4},{"g":"c","t":360.8,"v":127.3},{"g":"c","t":362.5,"v":126.7},{"g":"c","t":364.1,"v":127.6},{"g":"c","t":365.8,"v":126.7},{"g":"c","t":367.4,"v":126.4},{"g":"c","t":369.1,"v":125.1}
],
"model": [
{"g":"a","t":0.2,"v":62},{"g":"a","t":5,"v":60.2},{"g":"a","t":11.3,"v":58.9},{"g":"a","t":16,"v":58.2},{"g":"a","t":21.8,"v":57.9},{"g":"a","t":24.5,"v":62.6},{"g":"a","t":27.9,"v":71.4},{"g":"a","t":31.2,"v":77.6},{"g":"a","t":34.5,"v":82.6},{"g":"a","t":40,"v":87},{"g":"a","t":45.6,"v":90.1},{"g":"a","t":52.2,"v":92.3},{"g":"a","t":58.8,"v":93.5},{"g":"a","t":62.7,"v":93.5},{"g":"a","t":65.5,"v":91.4},{"g":"a","t":67.7,"v":85.7},{"g":"a","t":71,"v":78.2},{"g":"a","t":76.5,"v":69.5},{"g":"a","t":82.1,"v":63.5},{"g":"a","t":89.8,"v":60.1},{"g":"a","t":98.7,"v":58.5},{"g":"a","t":103.1,"v":58.5},{"g":"a","t":105.3,"v":62},{"g":"a","t":108.6,"v":71.4},{"g":"a","t":111.9,"v":78.2},{"g":"a","t":116.4,"v":83.2},{"g":"a","t":120.8,"v":87.6},{"g":"a","t":125.2,"v":90.7},{"g":"a","t":136.3,"v":92.6},{"g":"a","t":147.3,"v":93.5},{"g":"a","t":162.8,"v":94},{"g":"a","t":165.6,"v":91.4},{"g":"a","t":168.3,"v":83.2},{"g":"a","t":171.7,"v":77},{"g":"a","t":175,"v":70.7},{"g":"a","t":180.5,"v":65.1},{"g":"a","t":187.1,"v":61.4},{"g":"a","t":197.1,"v":58.9},{"g":"a","t":207.1,"v":57.9},{"g":"a","t":223.7,"v":57.9},{"g":"a","t":225.9,"v":62},{"g":"a","t":229.2,"v":72.6},{"g":"a","t":232.5,"v":78.9},{"g":"a","t":236.9,"v":85.1},{"g":"a","t":242.5,"v":89.5},{"g":"a","t":249.1,"v":92},{"g":"a","t":251.3,"v":92.6},{"g":"a","t":263.5,"v":94.5},{"g":"a","t":279,"v":93.5},{"g":"a","t":303.3,"v":93.5},{"g":"a","t":306.6,"v":90.1},{"g":"a","t":308.8,"v":85.1},{"g":"a","t":311,"v":77.6},{"g":"a","t":314.4,"v":72},{"g":"a","t":318.8,"v":66.4},{"g":"a","t":324.3,"v":62},{"g":"a","t":331,"v":60.1},{"g":"a","t":339.8,"v":58.5},{"g":"a","t":346.4,"v":57.9},{"g":"a","t":369.7,"v":57.9},
{"g":"b","t":0.4,"v":97.9},{"g":"b","t":10.2,"v":97},{"g":"b","t":24.5,"v":96.1},{"g":"b","t":27.9,"v":98.3},{"g":"b","t":32.3,"v":102},{"g":"b","t":37.8,"v":105.1},{"g":"b","t":43.3,"v":107.6},{"g":"b","t":48.9,"v":109.8},{"g":"b","t":54.4,"v":111.1},{"g":"b","t":59.9,"v":112},{"g":"b","t":64.4,"v":112.9},{"g":"b","t":67.7,"v":110.75},{"g":"b","t":72.1,"v":107.9},{"g":"b","t":76.5,"v":105.75},{"g":"b","t":82.1,"v":103.25},{"g":"b","t":87.6,"v":101.4},{"g":"b","t":93.1,"v":100.1},{"g":"b","t":103.6,"v":98.9},{"g":"b","t":109.7,"v":102},{"g":"b","t":115.2,"v":104.5},{"g":"b","t":120.8,"v":107},{"g":"b","t":125.2,"v":109.2},{"g":"b","t":136.3,"v":112.3},{"g":"b","t":147.3,"v":114.2},{"g":"b","t":158.4,"v":115.75},{"g":"b","t":164.5,"v":116.1},{"g":"b","t":169.4,"v":113.25},{"g":"b","t":175,"v":109.8},{"g":"b","t":180.5,"v":107},{"g":"b","t":186,"v":104.8},{"g":"b","t":191.6,"v":103.25},{"g":"b","t":197.1,"v":101.7},{"g":"b","t":202.6,"v":100.4},{"g":"b","t":208.2,"v":99.2},{"g":"b","t":213.7,"v":98.25},{"g":"b","t":219.2,"v":97.3},{"g":"b","t":225.3,"v":97},{"g":"b","t":230.3,"v":100.75},{"g":"b","t":235.8,"v":103.6},{"g":"b","t":241.3,"v":106.4},{"g":"b","t":246.9,"v":108.6},{"g":"b","t":251.3,"v":110.4},{"g":"b","t":262.4,"v":112.9},{"g":"b","t":273.4,"v":114.8},{"g":"b","t":284.5,"v":116.1},{"g":"b","t":295.5,"v":116.7},{"g":"b","t":304.4,"v":117},{"g":"b","t":308.8,"v":114.5},{"g":"b","t":313.2,"v":111.4},{"g":"b","t":317.7,"v":109.2},{"g":"b","t":323.2,"v":106.7},{"g":"b","t":328.7,"v":104.5},{"g":"b","t":334.3,"v":102.6},{"g":"b","t":339.8,"v":101.1},{"g":"b","t":345.3,"v":99.8},{"g":"b","t":350.9,"v":98.6},{"g":"b","t":356.4,"v":97.9},{"g":"b","t":361.9,"v":97.5},{"g":"b","t":369.7,"v":97.3},
{"g":"c","t":0.4,"v":125},{"g":"c","t":10.2,"v":123.6},{"g":"c","t":20.7,"v":122.6},{"g":"c","t":32.3,"v":126.1},{"g":"c","t":43.3,"v":129.2},{"g":"c","t":54.4,"v":132.3},{"g":"c","t":62.2,"v":134.8},{"g":"c","t":71,"v":132},{"g":"c","t":82.1,"v":129.5},{"g":"c","t":93.1,"v":127.3},{"g":"c","t":102.5,"v":126.1},{"g":"c","t":109.7,"v":128.25},{"g":"c","t":120.8,"v":131.4},{"g":"c","t":128.5,"v":133.6},{"g":"c","t":136.3,"v":135.75},{"g":"c","t":147.3,"v":137.6},{"g":"c","t":158.4,"v":139.5},{"g":"c","t":162.3,"v":140.1},{"g":"c","t":175,"v":136.1},{"g":"c","t":186,"v":133.25},{"g":"c","t":197.1,"v":130.75},{"g":"c","t":208.2,"v":128.25},{"g":"c","t":219.2,"v":126.4},{"g":"c","t":222,"v":125.75},{"g":"c","t":230.3,"v":127.6},{"g":"c","t":241.3,"v":130.75},{"g":"c","t":251.3,"v":133.9},{"g":"c","t":262.4,"v":136.4},{"g":"c","t":273.4,"v":138.9},{"g":"c","t":284.5,"v":140.8},{"g":"c","t":295.5,"v":142},{"g":"c","t":302.7,"v":142.8},{"g":"c","t":317.7,"v":137.3},{"g":"c","t":328.7,"v":133.9},{"g":"c","t":339.8,"v":131.1},{"g":"c","t":350.9,"v":128.6},{"g":"c","t":361.9,"v":126.7},{"g":"c","t":369.7,"v":125.6}
]
},
"layer": [
 {
  "layer": [
   {
    "data": {"name": "work"},
    "mark": {"type": "line", "color": "#0000FF", "strokeWidth": 3.2},
    "encoding": {
     "x": {"field": "t", "type": "quantitative", "scale": {"domain": [-0.9, 380.3], "nice": false, "zero": false}, "axis": {"orient": "bottom", "values": [0,50,100,150,200,250,300,350], "tickSize": -13, "labelPadding": 27, "labelOffset": 4, "labelFontSize": 41, "labelColor": "black", "labelFontWeight": "normal", "title": "Time (seconds)", "titleFont": "Liberation Serif", "titleFontSize": 42, "titleFontWeight": "bold", "titleColor": "black", "titleX": 549, "titleY": 94, "titleBaseline": "alphabetic", "titleAlign": "center", "titleAnchor": null}},
     "y": {"field": "w", "type": "quantitative", "scale": {"domain": [-70.5, 188.6], "nice": false, "zero": false}, "axis": {"orient": "right", "values": [-50,0,50,100,150], "labelExpr": "'' + datum.value", "tickSize": -12, "labelPadding": 64, "labelAlign": "center", "labelOffset": -4, "labelFontSize": 42, "labelColor": "#0000FF", "labelFontWeight": "bold", "title": null}},
     "detail": {"field": "g"}
    }
   },
   {
    "data": {"values": [{}]},
    "mark": {"type": "text", "text": ["Workload", "(watts)"], "lineHeight": 50, "font": "Liberation Serif", "fontSize": 42, "fontWeight": "bold", "color": "#0000FF", "align": "center", "baseline": "alphabetic"},
    "encoding": {
     "x": {"datum": 267, "type": "quantitative", "scale": {"domain": [-0.9, 380.3], "nice": false, "zero": false}, "axis": {"orient": "bottom", "values": [0,50,100,150,200,250,300,350], "tickSize": -13, "labelPadding": 27, "labelOffset": 4, "labelFontSize": 41, "labelColor": "black", "labelFontWeight": "normal", "title": "Time (seconds)", "titleFont": "Liberation Serif", "titleFontSize": 42, "titleFontWeight": "bold", "titleColor": "black", "titleX": 549, "titleY": 94, "titleBaseline": "alphabetic", "titleAlign": "center", "titleAnchor": null}},
     "y": {"datum": -12.3, "type": "quantitative", "scale": {"domain": [-70.5, 188.6], "nice": false, "zero": false}, "axis": {"orient": "right", "values": [-50,0,50,100,150], "labelExpr": "'' + datum.value", "tickSize": -12, "labelPadding": 64, "labelAlign": "center", "labelOffset": -4, "labelFontSize": 42, "labelColor": "#0000FF", "labelFontWeight": "bold", "title": null}}
    }
   }
  ]
 },
 {
  "layer": [
   {
    "data": {"name": "hr"},
    "mark": {"type": "line", "color": "#FF0000", "strokeWidth": 3.2},
    "encoding": {
     "x": {"field": "t", "type": "quantitative", "scale": {"domain": [-0.9, 380.3], "nice": false, "zero": false}, "axis": {"orient": "top", "values": [0,50,100,150,200,250,300,350], "tickSize": -17, "labels": false, "title": null}},
     "y": {"field": "v", "type": "quantitative", "scale": {"domain": [34.68, 160.34], "nice": false, "zero": false}, "axis": {"orient": "left", "values": [40,60,80,100,120,140,160], "tickSize": -13, "labelPadding": 34, "labelOffset": 10, "labelFontSize": 42, "labelColor": "#FF0000", "labelFontWeight": "bold", "title": null}},
     "detail": {"field": "g"}
    }
   },
   {
    "data": {"name": "model"},
    "mark": {"type": "line", "color": "#000000", "strokeWidth": 3.2},
    "encoding": {
     "x": {"field": "t", "type": "quantitative", "scale": {"domain": [-0.9, 380.3], "nice": false, "zero": false}, "axis": {"orient": "top", "values": [0,50,100,150,200,250,300,350], "tickSize": -17, "labels": false, "title": null}},
     "y": {"field": "v", "type": "quantitative", "scale": {"domain": [34.68, 160.34], "nice": false, "zero": false}, "axis": {"orient": "left", "values": [40,60,80,100,120,140,160], "tickSize": -13, "labelPadding": 34, "labelOffset": 10, "labelFontSize": 42, "labelColor": "#FF0000", "labelFontWeight": "bold", "title": null}},
     "detail": {"field": "g"}
    }
   },
   {
    "data": {"values": [{}]},
    "mark": {"type": "text", "text": "HR data", "font": "Liberation Serif", "fontSize": 42, "fontWeight": "bold", "color": "#FF0000", "align": "center", "baseline": "alphabetic"},
    "encoding": {
     "x": {"datum": 64.9, "type": "quantitative", "scale": {"domain": [-0.9, 380.3], "nice": false, "zero": false}, "axis": {"orient": "top", "values": [0,50,100,150,200,250,300,350], "tickSize": -17, "labels": false, "title": null}},
     "y": {"datum": 149.72, "type": "quantitative", "scale": {"domain": [34.68, 160.34], "nice": false, "zero": false}, "axis": {"orient": "left", "values": [40,60,80,100,120,140,160], "tickSize": -13, "labelPadding": 34, "labelOffset": 10, "labelFontSize": 42, "labelColor": "#FF0000", "labelFontWeight": "bold", "title": null}}
    }
   },
   {
    "data": {"values": [{}]},
    "mark": {"type": "text", "text": "HR model", "font": "Liberation Serif", "fontSize": 42, "fontWeight": "bold", "color": "#000000", "align": "center", "baseline": "alphabetic"},
    "encoding": {
     "x": {"datum": 142.7, "type": "quantitative", "scale": {"domain": [-0.9, 380.3], "nice": false, "zero": false}, "axis": {"orient": "top", "values": [0,50,100,150,200,250,300,350], "tickSize": -17, "labels": false, "title": null}},
     "y": {"datum": 149.03, "type": "quantitative", "scale": {"domain": [34.68, 160.34], "nice": false, "zero": false}, "axis": {"orient": "left", "values": [40,60,80,100,120,140,160], "tickSize": -13, "labelPadding": 34, "labelOffset": 10, "labelFontSize": 42, "labelColor": "#FF0000", "labelFontWeight": "bold", "title": null}}
    }
   }
  ]
 }
],
"resolve": {"scale": {"y": "independent"}, "axis": {"x": "independent"}}
}
